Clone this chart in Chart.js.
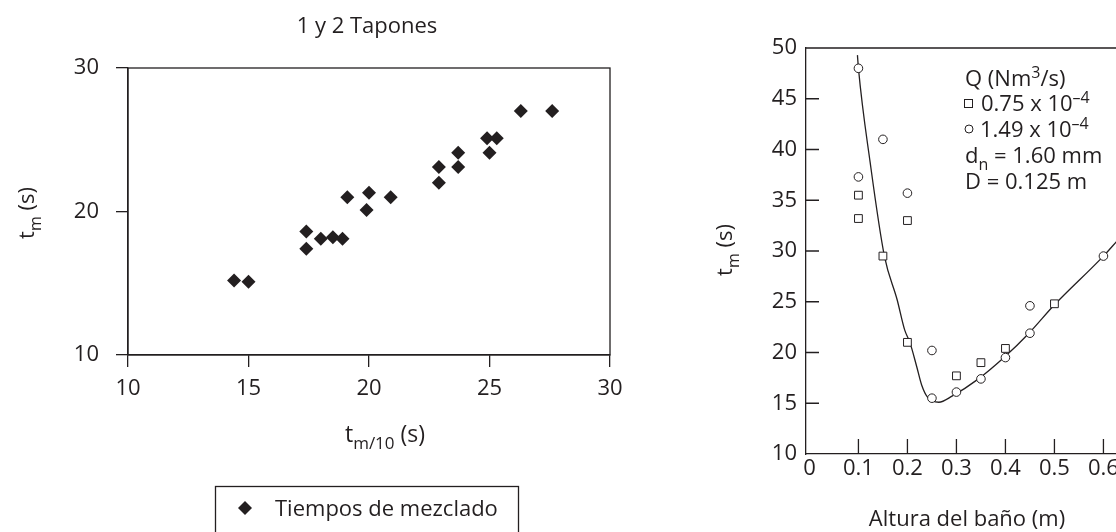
<!DOCTYPE html>
<html>
<head>
<meta charset="utf-8">
<script src="https://cdn.jsdelivr.net/npm/chart.js@4.4.1/dist/chart.umd.min.js"></script>
<style>
    html, body { margin: 0; padding: 0; background: #fff; width: 1116px; height: 532px; overflow: hidden; }
    #mixChart { position: absolute; left: 0; top: 0; }
    #heightChart { position: absolute; left: 700px; top: 0; }
</style>
</head>
<body>
<canvas id="mixChart" width="700" height="532"></canvas>
<canvas id="heightChart" width="440" height="532"></canvas>
<script>
// Izquierda: tiempos de mezclado, 1 y 2 tapones
const mixTitle = '1 y 2 Tapones';
const mixLabel = 'Tiempos de mezclado';
const tm10Values = [14.4, 15.0, 17.4, 17.4, 18.0, 18.5, 18.9, 19.1, 20.0, 19.9, 20.9, 22.9, 22.9, 23.7, 23.7, 24.9, 25.3, 25.0, 26.3, 27.6];
const tmValues   = [15.2, 15.1, 18.6, 17.4, 18.1, 18.2, 18.1, 21.0, 21.3, 20.1, 21.0, 23.1, 22.0, 24.1, 23.1, 25.1, 25.1, 24.1, 27.0, 27.0];
const mixXTicks = [10, 15, 20, 25, 30];
const mixYTicks = [10, 20, 30];

// Derecha: tiempo de mezclado vs altura del baño
const squareHeights = [0.1, 0.1, 0.15, 0.2, 0.2, 0.3, 0.35, 0.4, 0.5];
const squareTimes   = [35.5, 33.2, 29.5, 33.0, 21.0, 17.7, 19.0, 20.4, 24.8];
const circleHeights = [0.1, 0.1, 0.15, 0.2, 0.25, 0.25, 0.3, 0.35, 0.4, 0.45, 0.45, 0.6];
const circleTimes   = [48.0, 37.3, 41.0, 35.7, 20.2, 15.5, 16.1, 17.4, 19.5, 24.6, 21.9, 29.5];
const fitHeights = [0.098, 0.1, 0.124, 0.153, 0.179, 0.1945, 0.205, 0.219, 0.229, 0.241, 0.264, 0.291, 0.345, 0.397, 0.448, 0.5, 0.6, 0.628];
const fitTimes   = [49.3, 48.0, 38.7, 29.5, 25.2, 22.2, 21.0, 18.6, 16.8, 15.6, 15.1, 15.7, 17.4, 19.5, 21.9, 24.7, 29.5, 31.0];
const heightXTicks = [0, 0.1, 0.2, 0.3, 0.4, 0.5, 0.6];
const heightYTicks = [10, 15, 20, 25, 30, 35, 40, 45, 50];

const FONT = "'Open Sans', sans-serif";
const INK = '#231f20';

function toPoints(xs, ys) {
    return xs.map((x, i) => ({ x: x, y: ys[i] }));
}

function partFont(kind, size) {
    const s = kind ? Math.round(size * 0.72) : size;
    return s + 'px ' + FONT;
}

// texto con subíndices / superíndices: [['t'], ['m', 'sub'], [' (s)']]
function drawRich(ctx, parts, x, y, size, align) {
    let total = 0;
    parts.forEach(p => {
        ctx.font = partFont(p[1], size);
        total += ctx.measureText(p[0]).width;
    });
    let cx = align === 'center' ? x - total / 2 : x;
    ctx.textAlign = 'left';
    ctx.textBaseline = 'alphabetic';
    parts.forEach(p => {
        ctx.font = partFont(p[1], size);
        let dy = 0;
        if (p[1] === 'sub') dy = size * 0.3;
        if (p[1] === 'sup') dy = -size * 0.38;
        ctx.fillText(p[0], cx, y + dy);
        cx += ctx.measureText(p[0]).width;
    });
}

const mixDecor = {
    id: 'mixDecor',
    afterDraw(chart) {
        const ctx = chart.ctx;
        const a = chart.chartArea;
        ctx.save();
        ctx.strokeStyle = INK;
        ctx.fillStyle = INK;
        ctx.lineWidth = 1.3;
        ctx.strokeRect(a.left, a.top, a.right - a.left, a.bottom - a.top);

        drawRich(ctx, [[mixTitle]], 367, 33, 22, 'center');
        drawRich(ctx, [['t'], ['m/10', 'sub'], [' (s)']], 385, 442, 23, 'center');

        // leyenda
        ctx.strokeRect(215.5, 486.5, 303, 60);
        ctx.beginPath();
        ctx.moveTo(245, 501); ctx.lineTo(252, 508); ctx.lineTo(245, 515); ctx.lineTo(238, 508);
        ctx.closePath();
        ctx.fill();
        drawRich(ctx, [[chart.data.datasets[0].label]], 275, 516, 22, 'left');

        ctx.translate(34, 213);
        ctx.rotate(-Math.PI / 2);
        drawRich(ctx, [['t'], ['m', 'sub'], [' (s)']], 0, 0, 22, 'center');
        ctx.restore();
    }
};

new Chart(document.getElementById('mixChart'), {
    type: 'scatter',
    data: {
        datasets: [{
            label: mixLabel,
            data: toPoints(tm10Values, tmValues),
            pointStyle: 'rectRot',
            pointRadius: 7,
            backgroundColor: INK,
            borderWidth: 0
        }]
    },
    options: {
        responsive: false,
        animation: false,
        layout: { padding: { top: 68, right: 90, left: 0, bottom: 0 } },
        plugins: { legend: { display: false }, tooltip: { enabled: false } },
        scales: {
            x: {
                type: 'linear', min: 10, max: 30,
                afterBuildTicks: s => { s.ticks = mixXTicks.map(v => ({ value: v })); },
                afterFit: s => { s.height = 177; },
                grid: { drawOnChartArea: false, color: INK, tickLength: 12, lineWidth: 1.3 },
                border: { color: INK, width: 1.3 },
                ticks: { color: INK, font: { family: FONT, size: 22 }, padding: 9, maxRotation: 0 }
            },
            y: {
                type: 'linear', min: 10, max: 30,
                afterBuildTicks: s => { s.ticks = mixYTicks.map(v => ({ value: v })); },
                afterFit: s => { s.width = 128; },
                grid: { drawOnChartArea: false, color: INK, tickLength: 12, lineWidth: 1.3 },
                border: { color: INK, width: 1.3 },
                ticks: { color: INK, font: { family: FONT, size: 22 }, padding: 17 }
            }
        }
    },
    plugins: [mixDecor]
});

const heightDecor = {
    id: 'heightDecor',
    afterDraw(chart) {
        const ctx = chart.ctx;
        const a = chart.chartArea;
        const xs = chart.scales.x;
        const ys = chart.scales.y;
        ctx.save();
        ctx.strokeStyle = INK;
        ctx.fillStyle = INK;
        ctx.lineWidth = 1.3;
        ctx.beginPath();
        ctx.moveTo(a.left, a.top); ctx.lineTo(a.right, a.top);
        // marcas hacia dentro
        heightXTicks.forEach(v => {
            if (v === 0) return;
            const px = xs.getPixelForValue(v);
            ctx.moveTo(px, a.bottom); ctx.lineTo(px, a.bottom - 15);
        });
        heightYTicks.forEach(v => {
            if (v === ys.min || v === ys.max) return;
            const py = ys.getPixelForValue(v);
            ctx.moveTo(a.left, py); ctx.lineTo(a.left + 13, py);
        });
        ctx.stroke();

        // leyenda
        const lx = 265;
        drawRich(ctx, [['Q (Nm'], ['3', 'sup'], ['/s)']], lx, 86, 22, 'left');
        ctx.lineWidth = 1;
        ctx.strokeRect(264.5, 99.5, 8, 8);
        drawRich(ctx, [['0.75 x 10'], ['\u20134', 'sup']], 281, 111, 22, 'left');
        ctx.beginPath();
        ctx.arc(269, 129, 4, 0, Math.PI * 2);
        ctx.stroke();
        drawRich(ctx, [['1.49 x 10'], ['\u20134', 'sup']], 280, 137, 22, 'left');
        drawRich(ctx, [['d'], ['n', 'sub'], [' = 1.60 mm']], lx, 163, 22, 'left');
        drawRich(ctx, [['D = 0.125 m']], lx, 189, 22, 'left');

        drawRich(ctx, [['Altura del ba\u00f1o (m)']], 267, 526, 22, 'center');

        ctx.translate(32, 250);
        ctx.rotate(-Math.PI / 2);
        drawRich(ctx, [['t'], ['m', 'sub'], [' (s)']], 0, 0, 22, 'center');
        ctx.restore();
    }
};

new Chart(document.getElementById('heightChart'), {
    type: 'scatter',
    data: {
        datasets: [{
            label: '0.75 x 10-4',
            data: toPoints(squareHeights, squareTimes),
            pointStyle: 'rect',
            pointRadius: 5.5,
            backgroundColor: '#fff',
            borderColor: INK,
            borderWidth: 1,
            order: 1
        }, {
            label: '1.49 x 10-4',
            data: toPoints(circleHeights, circleTimes),
            pointStyle: 'circle',
            pointRadius: 4.3,
            backgroundColor: '#fff',
            borderColor: INK,
            borderWidth: 1,
            order: 1
        }, {
            label: 'ajuste',
            data: toPoints(fitHeights, fitTimes),
            showLine: true,
            pointRadius: 0,
            borderColor: INK,
            borderWidth: 1.3,
            cubicInterpolationMode: 'monotone',
            order: 2
        }]
    },
    options: {
        responsive: false,
        animation: false,
        layout: { padding: { top: 48, right: 15, left: 0, bottom: 0 } },
        plugins: { legend: { display: false }, tooltip: { enabled: false } },
        scales: {
            x: {
                type: 'linear', min: -0.007, max: 0.644,
                afterBuildTicks: s => { s.ticks = heightXTicks.map(v => ({ value: v })); },
                afterFit: s => { s.height = 78; },
                grid: { display: false, drawTicks: false },
                border: { color: INK, width: 1.3 },
                ticks: {
                    color: INK, font: { family: FONT, size: 22 }, padding: 2, maxRotation: 0,
                    callback: v => v === 0 ? '0' : v.toFixed(1)
                }
            },
            y: {
                type: 'linear', min: 10, max: 50,
                afterBuildTicks: s => { s.ticks = heightYTicks.map(v => ({ value: v })); },
                afterFit: s => { s.width = 106; },
                grid: { display: false, drawTicks: false },
                border: { color: INK, width: 1.3 },
                ticks: { color: INK, font: { family: FONT, size: 22 }, padding: 9 }
            }
        }
    },
    plugins: [heightDecor]
});
</script>
</body>
</html>
